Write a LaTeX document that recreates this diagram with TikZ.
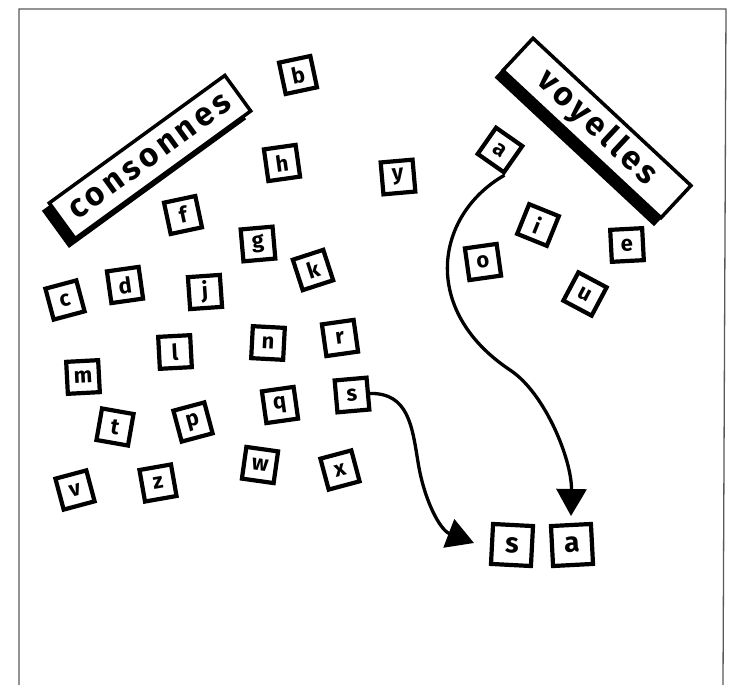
\documentclass[tikz,border=0pt]{standalone}
\usepackage{fontspec}
\setmainfont{Fira Sans}
\newfontfamily\labelfont[LetterSpace=12]{Fira Sans}
\usetikzlibrary{arrows.meta}
\begin{document}
\begin{tikzpicture}[x=1pt,y=-1pt,
  tile/.style={draw, line width=4.2pt, minimum size=32pt, inner sep=0pt, fill=white,
    font=\fontsize{22}{22}\selectfont\bfseries},
  bigtile/.style={tile, minimum size=40pt, font=\fontsize{28}{28}\selectfont\bfseries},
  labelbox/.style={draw, line width=3.5pt, fill=white, minimum height=44pt, inner sep=0pt,
    font=\labelfont\fontsize{33}{33}\selectfont\bfseries},
  shadowbox/.style={fill=black, minimum height=46pt, inner sep=0pt},
  arr/.style={line width=3.3pt, -{Triangle[length=27pt,width=30pt]}}]
\useasboundingbox (0,0) rectangle (732,685);
\draw[line width=1.3pt, black!65] (19,685) -- (19,9) -- (726,9) -- (723,685);

% labels
\node[shadowbox, minimum width=219pt, rotate=36] (consSh) at (144,165) {};
\node[labelbox, minimum width=217pt, rotate=36] (cons) at (150,157) {consonnes};
\node[shadowbox, minimum width=218pt, rotate=-43] (voySh) at (590,135) {};
\node[labelbox, minimum width=216pt, rotate=-43] (voy) at (597,128) {voyelles};

% consonants
\node[tile, rotate=12] (b) at (298,75) {b};
\node[tile, rotate=8] (h) at (282,163) {h};
\node[tile, rotate=5] (y) at (398,177) {y};
\node[tile, rotate=12] (f) at (183,215) {f};
\node[tile, rotate=5] (g) at (258,244) {g};
\node[tile, rotate=15] (c) at (65,300) {c};
\node[tile, rotate=8] (d) at (125,285) {d};
\node[tile, rotate=4] (j) at (205,292) {j};
\node[tile, rotate=18] (k) at (313,270) {k};
\node[tile, rotate=3] (m) at (83,377) {m};
\node[tile, rotate=3] (l) at (175,352) {l};
\node[tile, rotate=-3] (n) at (268,343) {n};
\node[tile, rotate=8] (r) at (340,338) {r};
\node[tile, rotate=-10] (t) at (115,427) {t};
\node[tile, rotate=15] (p) at (193,422) {p};
\node[tile, rotate=8] (q) at (280,405) {q};
\node[tile, rotate=5] (sC) at (352,395) {s};
\node[tile, rotate=15] (v) at (75,490) {v};
\node[tile, rotate=10] (z) at (158,483) {z};
\node[tile, rotate=-8] (w) at (260,465) {w};
\node[tile, rotate=15] (x) at (340,470) {x};

% vowels
\node[tile, rotate=-35] (aV) at (500,150) {a};
\node[tile, rotate=-22] (i) at (538,225) {i};
\node[tile, rotate=8] (o) at (483,262) {o};
\node[tile, rotate=3] (e) at (627,245) {e};
\node[tile, rotate=-28] (u) at (585,294) {u};

% result
\node[bigtile, rotate=-3] (sR) at (512,545) {s};
\node[bigtile, rotate=3] (aR) at (572,545) {a};

% arrows
\coordinate (aTip) at (571,516);
\coordinate (sTip) at (474,543);
\draw[arr] (aV.south east) .. controls (435,215) and (420,310) .. (510,370)
  .. controls (545,393) and (572,460) .. (aTip);
\draw[arr] (sC.east) .. controls (408,393) and (412,425) .. (418,462)
  .. controls (424,500) and (440,530) .. (sTip);
\end{tikzpicture}
\end{document}
